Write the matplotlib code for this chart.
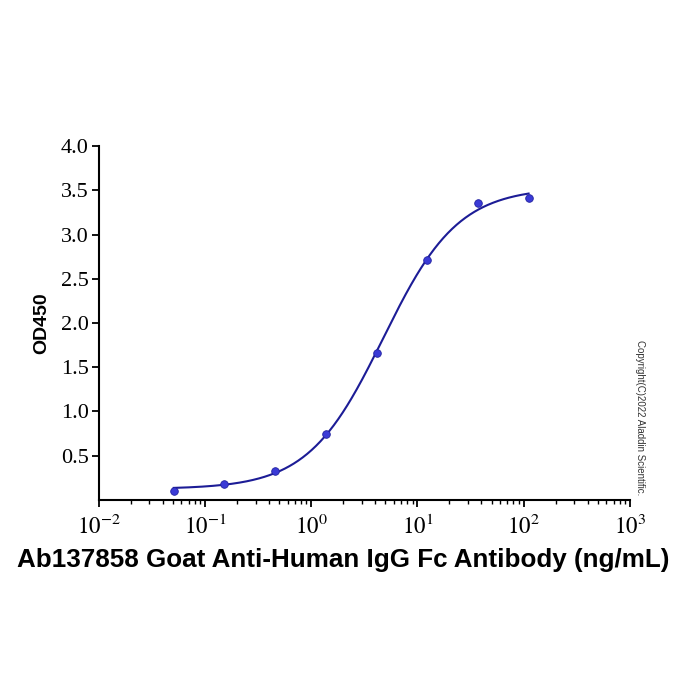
import numpy as np
import matplotlib
matplotlib.use("Agg")
import matplotlib.pyplot as plt
from matplotlib.ticker import LogLocator, FixedLocator, NullFormatter

conc = [111.1, 37.04, 12.35, 4.115, 1.372, 0.457, 0.152, 0.0508]
od = [3.41, 3.36, 2.71, 1.66, 0.74, 0.33, 0.18, 0.10]
y_ticks = [0.5, 1.0, 1.5, 2.0, 2.5, 3.0, 3.5, 4.0]
x_decades = [-2, -1, 0, 1, 2, 3]
xlabel = "Ab137858 Goat Anti-Human IgG Fc Antibody (ng/mL)"
ylabel = "OD450"
copyright_text = "Copyright(C)2022 Aladdin Scientific."

# 4PL fit (grid over EC50 & hill; linear solve for bottom/top)
x = np.array(conc); y = np.array(od)
best = None
for C in np.logspace(0, 1.5, 300):
    for B in np.linspace(0.6, 2.0, 141):
        f = (x / C) ** B / (1 + (x / C) ** B)
        A = np.vstack([1 - f, f]).T
        coef, res, *_ = np.linalg.lstsq(A, y, rcond=None)
        r = np.sum((A @ coef - y) ** 2)
        if best is None or r < best[0]:
            best = (r, C, B, coef)
_, C, B, (bot, top) = best
xf = np.logspace(np.log10(min(conc)), np.log10(max(conc)), 400)
ff = (xf / C) ** B / (1 + (xf / C) ** B)
yf = bot + (top - bot) * ff

plt.rcParams['mathtext.fontset'] = 'stix'

fig = plt.figure(figsize=(7, 7), dpi=100)
ax = fig.add_axes([0.141, 0.286, 0.759, 0.505])
ax.plot(xf, yf, color='#1c1c96', lw=1.5, zorder=2)
ax.scatter(conc, od, s=30, color='#3a3ad6', edgecolor='#2222a0', linewidth=0.6, zorder=3)

ax.set_xscale('log')
ax.set_xlim(10 ** -2, 10 ** 3)
ax.set_ylim(0, 4.0)
ax.xaxis.set_major_locator(FixedLocator([10.0 ** d for d in x_decades]))
ax.set_xticklabels([r'$\mathrm{10^{%d}}$' % d for d in x_decades])
ax.xaxis.set_minor_locator(LogLocator(base=10, subs=np.arange(2, 10), numticks=20))
ax.xaxis.set_minor_formatter(NullFormatter())
ax.set_yticks(y_ticks)
ax.set_yticklabels(['%.1f' % v for v in y_ticks], family='Liberation Serif')
for sp in ['top', 'right']:
    ax.spines[sp].set_visible(False)
for sp in ['left', 'bottom']:
    ax.spines[sp].set_linewidth(1.5)
ax.tick_params(axis='both', which='major', direction='out', length=5, width=1.3, labelsize=16, pad=2)
ax.tick_params(axis='x', which='minor', direction='out', length=3, width=1.0)
ax.tick_params(axis='x', which='major', pad=5, labelsize=16.5)

ax.set_xlabel(xlabel, family='Liberation Sans', fontweight='bold', fontsize=18.7)
ax.xaxis.set_label_coords(0.46, -0.135)
ax.set_ylabel(ylabel, family='Liberation Sans', fontweight='bold', fontsize=14, labelpad=8)

fig.text(0.914, 0.404, copyright_text, rotation=-90, fontsize=7, family='Liberation Sans',
         color='#333333', ha='center', va='center')

fig.savefig('out.png', dpi=100)
